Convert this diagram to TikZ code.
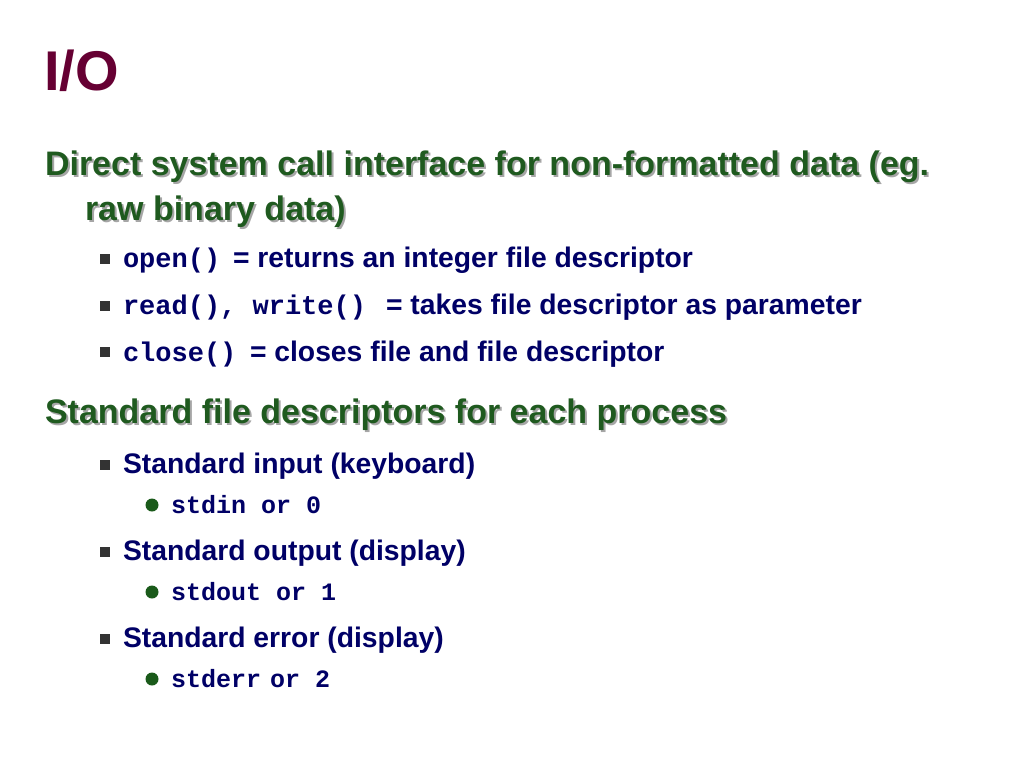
\documentclass[tikz,border=0pt]{standalone}
\usepackage{fontspec}
\setmainfont{Liberation Sans}
\setmonofont{Liberation Mono}
\definecolor{titlec}{HTML}{660033}
\definecolor{headc}{HTML}{1F5A1F}
\definecolor{bodyc}{HTML}{000066}
\definecolor{sqc}{HTML}{333333}
\definecolor{dotc}{HTML}{1A5A1A}
\begin{document}
\begin{tikzpicture}[x=1pt,y=-1pt,
  every node/.style={anchor=base west,inner sep=0pt,outer sep=0pt},
  title/.style={font=\fontsize{56}{56}\selectfont\bfseries,text=titlec},
  head/.style={font=\fontsize{34}{34}\selectfont\bfseries,text=headc},
  hshadow/.style={font=\fontsize{34}{34}\selectfont\bfseries,text=black!35},
  body/.style={font=\fontsize{28.3}{28.3}\selectfont\bfseries,text=bodyc},
  mono/.style={font=\fontsize{27}{27}\selectfont\bfseries\ttfamily,text=bodyc},
  smono/.style={font=\fontsize{25}{25}\selectfont\bfseries\ttfamily,text=bodyc},
  sq/.style={fill=sqc,minimum size=10pt,inner sep=0pt,anchor=center},
  dot/.style={circle,fill=dotc,minimum size=13pt,inner sep=0pt,anchor=center}]
\useasboundingbox (0,0) rectangle (1024,768);
\node[title] (t) at (44,90) {I/O};
% heading 1
\node[hshadow] at (47,177) {Direct system call interface for non-formatted data (eg.};
\node[head] (h1) at (45,175) {Direct system call interface for non-formatted data (eg.};
\node[hshadow] at (87,222) {raw binary data)};
\node[head] (h1b) at (85,220) {raw binary data)};
\node[sq] (s1) at (105,259) {};
\node[mono] (m1) at (123,267) {open()};
\node[body] (b1) at (233,267) {= returns an integer file descriptor};
\node[sq] (s2) at (105,306) {};
\node[mono] (m2) at (123,314) {read(), write()};
\node[body] (b2) at (386,314) {= takes file descriptor as parameter};
\node[sq] (s3) at (105,352) {};
\node[mono] (m3) at (123,361) {close()};
\node[body] (b3) at (250,361) {= closes file and file descriptor};
% heading 2
\node[hshadow] at (47,425) {Standard file descriptors for each process};
\node[head] (h2) at (45,423) {Standard file descriptors for each process};
\node[sq] (s4) at (105,465) {};
\node[body] (b4) at (123,473) {Standard input (keyboard)};
\node[dot] (d1) at (152,505) {};
\node[smono] (c1) at (171,513) {stdin or 0};
\node[sq] (s5) at (105,552) {};
\node[body] (b5) at (123,560) {Standard output (display)};
\node[dot] (d2) at (152,592) {};
\node[smono] (c2) at (171,600) {stdout or 1};
\node[sq] (s6) at (105,639) {};
\node[body] (b6) at (123,647) {Standard error (display)};
\node[dot] (d3) at (152,679) {};
\node[smono] (c3) at (171,687) {stderr\hspace{-6pt} or 2};
\end{tikzpicture}
\end{document}
